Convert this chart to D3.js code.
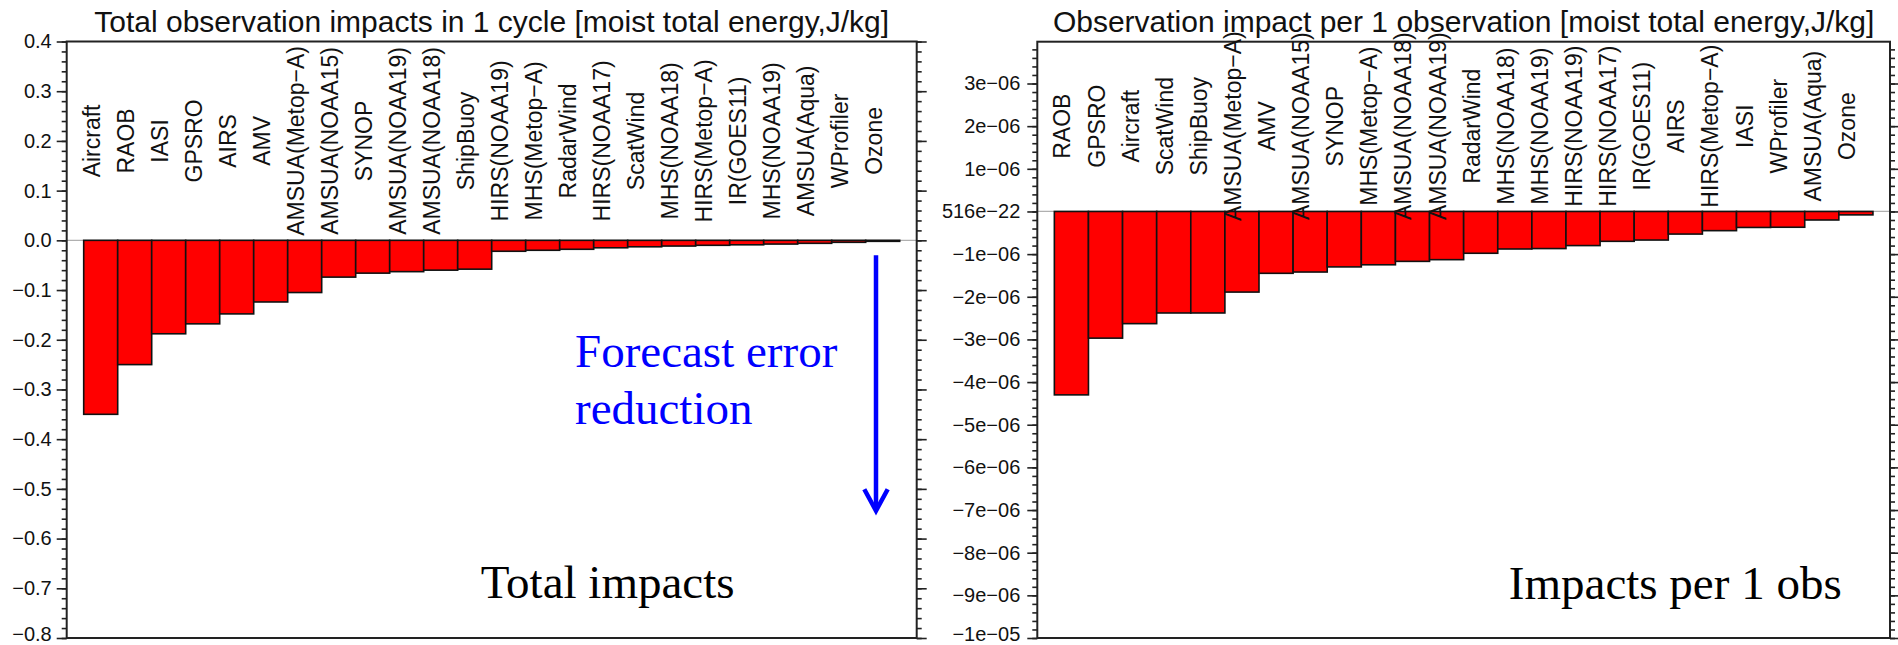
<!DOCTYPE html>
<html>
<head>
<meta charset="utf-8">
<script src="https://cdn.jsdelivr.net/npm/d3@7"></script>
<style>
body { margin: 0; background: #fff; }
svg { display: block; }
</style>
</head>
<body>
<div id="container"></div>
<script>
// left panel: total impacts in 1 cycle
var totalCategories = ["Aircraft","RAOB","IASI","GPSRO","AIRS","AMV","AMSUA(Metop−A)","AMSUA(NOAA15)","SYNOP","AMSUA(NOAA19)","AMSUA(NOAA18)","ShipBuoy","HIRS(NOAA19)","MHS(Metop−A)","RadarWind","HIRS(NOAA17)","ScatWind","MHS(NOAA18)","HIRS(Metop−A)","IR(GOES11)","MHS(NOAA19)","AMSUA(Aqua)","WProfiler","Ozone"];
var totalValues = [-0.35,-0.25,-0.188,-0.168,-0.148,-0.124,-0.105,-0.074,-0.066,-0.063,-0.060,-0.058,-0.022,-0.020,-0.018,-0.015,-0.013,-0.0115,-0.010,-0.009,-0.0075,-0.006,-0.004,-0.002];
var totalTicks = [-0.8,-0.7,-0.6,-0.5,-0.4,-0.3,-0.2,-0.1,0,0.1,0.2,0.3,0.4];
var totalTickLabels = ["−0.8","−0.7","−0.6","−0.5","−0.4","−0.3","−0.2","−0.1","0.0","0.1","0.2","0.3","0.4"];

// right panel: impact per 1 observation
var perObsCategories = ["RAOB","GPSRO","Aircraft","ScatWind","ShipBuoy","AMSUA(Metop−A)","AMV","AMSUA(NOAA15)","SYNOP","MHS(Metop−A)","AMSUA(NOAA18)","AMSUA(NOAA19)","RadarWind","MHS(NOAA18)","MHS(NOAA19)","HIRS(NOAA19)","HIRS(NOAA17)","IR(GOES11)","AIRS","HIRS(Metop−A)","IASI","WProfiler","AMSUA(Aqua)","Ozone"];
var perObsValues = [-4.30e-6,-2.97e-6,-2.63e-6,-2.38e-6,-2.38e-6,-1.89e-6,-1.45e-6,-1.42e-6,-1.30e-6,-1.25e-6,-1.17e-6,-1.13e-6,-0.98e-6,-0.88e-6,-0.87e-6,-0.80e-6,-0.70e-6,-0.67e-6,-0.53e-6,-0.45e-6,-0.375e-6,-0.37e-6,-0.20e-6,-0.08e-6];
var perObsTicks = [-1e-5,-9e-6,-8e-6,-7e-6,-6e-6,-5e-6,-4e-6,-3e-6,-2e-6,-1e-6,0,1e-6,2e-6,3e-6];
var perObsTickLabels = ["−1e−05","−9e−06","−8e−06","−7e−06","−6e−06","−5e−06","−4e−06","−3e−06","−2e−06","−1e−06","516e−22","1e−06","2e−06","3e−06"];

var titles = ["Total observation impacts in 1 cycle [moist total energy,J/kg]",
              "Observation impact per 1 observation [moist total energy,J/kg]"];

var svg = d3.select("#container").append("svg")
    .attr("width", 1898)
    .attr("height", 645)
    .style("font-family", "'Liberation Sans', Arial, Helvetica, sans-serif");

function drawPanel(p, cats, vals, ticks, tickLabels) {

    var x = d3.scaleBand()
        .domain(cats)
        .range([p.left, p.right])
        .paddingInner(0)
        .paddingOuter(0.5);

    var y = d3.scaleLinear()
        .domain(p.domain)
        .range([p.bottom, p.top]);

    var g = svg.append("g");

    // zero reference line
    g.append("line")
        .attr("x1", p.left).attr("x2", p.right)
        .attr("y1", y(0)).attr("y2", y(0))
        .attr("stroke", "#b0b0b0")
        .attr("stroke-width", 1.2);

    g.selectAll("rect.bar")
        .data(vals)
        .enter()
        .append("rect")
        .attr("class", "bar")
        .attr("x", function(d, i) { return x(cats[i]); })
        .attr("width", x.bandwidth())
        .attr("y", function(d) { return y(Math.max(0, d)); })
        .attr("height", function(d) { return Math.abs(y(d) - y(0)); })
        .attr("fill", "#ff0000")
        .attr("stroke", "#111")
        .attr("stroke-width", 1.6);

    // minor ticks
    var minor = d3.range(p.domain[0], p.minorMax + p.minorStep / 2, p.minorStep);
    g.append("g")
        .attr("transform", "translate(" + p.left + ",0)")
        .call(d3.axisLeft(y).tickValues(minor).tickSize(5).tickFormat(""))
        .call(function(a) { a.select(".domain").remove(); });
    g.append("g")
        .attr("transform", "translate(" + p.right + ",0)")
        .call(d3.axisRight(y).tickValues(minor).tickSize(5).tickFormat(""))
        .call(function(a) { a.select(".domain").remove(); });

    // major ticks
    var yAxis = g.append("g")
        .attr("transform", "translate(" + p.left + ",0)")
        .call(d3.axisLeft(y).tickValues(ticks).tickSize(10).tickPadding(p.pad)
            .tickFormat(function(d, i) { return tickLabels[i]; }));
    yAxis.select(".domain").remove();
    yAxis.selectAll("text")
        .attr("font-size", 20)
        .attr("fill", "#111")
        .attr("font-family", "'Liberation Sans', Arial, sans-serif");
    // keep the lowest label inside the page
    yAxis.selectAll("text").filter(function(d) { return d === p.domain[0]; })
        .attr("dy", "0.12em");

    g.append("g")
        .attr("transform", "translate(" + p.right + ",0)")
        .call(d3.axisRight(y).tickValues(ticks).tickSize(10).tickFormat(""))
        .call(function(a) { a.select(".domain").remove(); });

    g.selectAll(".tick line").attr("stroke", "#222").attr("stroke-width", 1.6);

    // frame
    g.append("rect")
        .attr("x", p.left).attr("y", p.top)
        .attr("width", p.right - p.left)
        .attr("height", p.bottom - p.top)
        .attr("fill", "none")
        .attr("stroke", "#222")
        .attr("stroke-width", 2);

    // category names, drawn over the bars
    g.selectAll("text.cat")
        .data(cats)
        .enter()
        .append("text")
        .attr("class", "cat")
        .attr("transform", function(d) {
            return "translate(" + (x(d) + x.bandwidth() / 2 - 1) + "," + y(p.labelAt) + ") rotate(-90)";
        })
        .attr("text-anchor", "middle")
        .attr("font-size", 23)
        .attr("fill", "#111")
        .text(function(d) { return d; });

    g.append("text")
        .attr("x", (p.left + p.right) / 2)
        .attr("y", 31.5)
        .attr("text-anchor", "middle")
        .attr("font-size", 30)
        .attr("fill", "#111")
        .text(p.title);

    return {x: x, y: y};
}

var leftP = drawPanel({left: 66.7, right: 916.7, top: 41.5, bottom: 638,
    domain: [-0.8, 0.4], minorStep: 0.02, minorMax: 0.4, pad: 5,
    labelAt: 0.2, title: titles[0]},
    totalCategories, totalValues, totalTicks, totalTickLabels);

var rightP = drawPanel({left: 1037.3, right: 1890, top: 41.7, bottom: 638,
    domain: [-1e-5, 3.98e-6], minorStep: 2e-7, minorMax: 3.8e-6, pad: 7,
    labelAt: 2e-6, title: titles[1]},
    perObsCategories, perObsValues, perObsTicks, perObsTickLabels);

// annotation: forecast error reduction arrow
var serif = "'Liberation Serif', 'Times New Roman', serif";
var ax = 876;
var ay0 = leftP.y(-0.03), ay1 = leftP.y(-0.544);
svg.append("line")
    .attr("x1", ax).attr("x2", ax)
    .attr("y1", ay0).attr("y2", ay1 - 1)
    .attr("stroke", "#0000ff")
    .attr("stroke-width", 4.5);
svg.append("path")
    .attr("d", "M" + (ax - 11.7) + "," + (ay1 - 21.5) + "L" + ax + "," + ay1 + "L" + (ax + 11.7) + "," + (ay1 - 21.5))
    .attr("fill", "none")
    .attr("stroke", "#0000ff")
    .attr("stroke-width", 4.5)
    .attr("stroke-linejoin", "miter");

svg.append("text")
    .attr("x", 575).attr("y", 366.7)
    .attr("font-family", serif).attr("font-size", 47)
    .attr("fill", "#0000ff")
    .text("Forecast error");
svg.append("text")
    .attr("x", 575).attr("y", 424)
    .attr("font-family", serif).attr("font-size", 47)
    .attr("fill", "#0000ff")
    .text("reduction");

svg.append("text")
    .attr("x", 480.7).attr("y", 598.3)
    .attr("font-family", serif).attr("font-size", 47)
    .attr("fill", "#000")
    .text("Total impacts");
svg.append("text")
    .attr("x", 1841.7).attr("y", 599.3)
    .attr("text-anchor", "end")
    .attr("font-family", serif).attr("font-size", 47)
    .attr("fill", "#000")
    .text("Impacts per 1 obs");
</script>
</body>
</html>
